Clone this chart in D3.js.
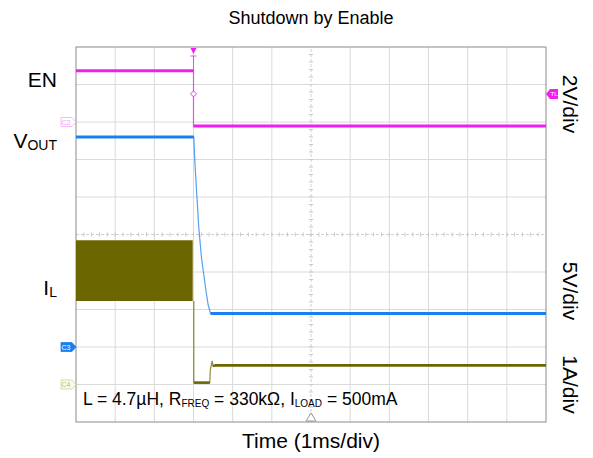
<!DOCTYPE html>
<html>
<head>
<meta charset="utf-8">
<script src="https://cdn.jsdelivr.net/npm/d3@7"></script>
<style>
  body { margin: 0; background: #fff; }
  text { font-family: "Liberation Sans", Arial, sans-serif; }
</style>
</head>
<body>
<div id="chart"></div>
<script>
// scope capture: shutdown by EN, 1 ms/div, 10 vertical divisions
const timeDivs = d3.range(-3, 10);         // ms gridlines
const levelDivs = d3.range(0, 11);         // vertical divisions

// EN (2 V/div, ground at div 8)
const enTime = [-3, 0, 0, 9];
const enVolts = [2.73, 2.73, -0.21, -0.21];

// VOUT (5 V/div, ground at div 2)
const voutTime = [-3, 0.008, 0.033, 0.084, 0.135, 0.204, 0.263, 0.324, 0.375, 0.434, 9];
const voutVolts = [28.0, 28.0, 24.9, 20.3, 15.9, 11.9, 9.6, 7.3, 5.6, 4.47, 4.47];

// IL (1 A/div, ground at div 1) - switching ripple envelope before shutdown
const ilBandTime = [-3, -0.02];
const ilBandMax = [3.85, 3.85];
const ilBandMin = [2.23, 2.23];
const ilTime = [0.008, 0.008, 0.416, 0.429, 0.477, 0.498, 0.544, 9];
const ilAmps = [2.23, 0.05, 0.05, 0.39, 0.63, 0.49, 0.51, 0.51];

const channels = [
  { name: "EN",   t: enTime,   v: enVolts,   offset: 8, perDiv: 2, color: "#f01ef0" },
  { name: "VOUT", t: voutTime, v: voutVolts, offset: 2, perDiv: 5, color: "#1a80ee" },
  { name: "IL",   t: ilTime,   v: ilAmps,    offset: 1, perDiv: 1, color: "#6b6600" }
];

const W = 593, H = 458;
const margin = { top: 47, right: 47, bottom: 36, left: 76 };

const svg = d3.select("#chart").append("svg")
  .attr("width", W).attr("height", H);

const x = d3.scaleLinear().domain([-3, 9]).range([margin.left, W - margin.right]);
const y = d3.scaleLinear().domain([0, 10]).range([H - margin.bottom, margin.top]);

// grid
const grid = svg.append("g");
grid.selectAll(".vg").data(timeDivs.filter(d => d > -3 && d < 9 && d !== 3)).enter()
  .append("line")
  .attr("x1", d => x(d)).attr("x2", d => x(d))
  .attr("y1", y(0)).attr("y2", y(10))
  .attr("stroke", "#dadada");
grid.selectAll(".hg").data(levelDivs.filter(d => d > 0 && d < 10 && d !== 5)).enter()
  .append("line")
  .attr("y1", d => y(d)).attr("y2", d => y(d))
  .attr("x1", x(-3)).attr("x2", x(9))
  .attr("stroke", "#dadada");

// centre lines with minor ticks
grid.append("line")
  .attr("x1", x(3)).attr("x2", x(3)).attr("y1", y(0)).attr("y2", y(10))
  .attr("stroke", "#cfcfcf").attr("stroke-dasharray", "3,2");
grid.append("line")
  .attr("y1", y(5)).attr("y2", y(5)).attr("x1", x(-3)).attr("x2", x(9))
  .attr("stroke", "#cfcfcf").attr("stroke-dasharray", "3,2");
grid.selectAll(".vt").data(d3.range(0.2, 10, 0.2)).enter()
  .append("line")
  .attr("x1", x(3) - 2).attr("x2", x(3) + 2)
  .attr("y1", d => y(d)).attr("y2", d => y(d))
  .attr("stroke", "#c8c8c8");
grid.selectAll(".ht").data(d3.range(-2.8, 9, 0.2)).enter()
  .append("line")
  .attr("y1", y(5) - 2).attr("y2", y(5) + 2)
  .attr("x1", d => x(d)).attr("x2", d => x(d))
  .attr("stroke", "#c8c8c8");

// frame
svg.append("rect")
  .attr("x", x(-3)).attr("y", y(10))
  .attr("width", x(9) - x(-3)).attr("height", y(0) - y(10))
  .attr("fill", "none").attr("stroke", "#8a8a8a");

// IL ripple band
const ilCh = channels[2];
const toDiv = (ch, v) => ch.offset + v / ch.perDiv;
const band = ilBandTime.map((t, i) => ({ t, hi: ilBandMax[i], lo: ilBandMin[i] }));
svg.append("path")
  .datum(band)
  .attr("fill", ilCh.color)
  .attr("d", d3.area()
    .x(d => x(d.t))
    .y0(d => y(toDiv(ilCh, d.lo)))
    .y1(d => y(toDiv(ilCh, d.hi))));

// traces: thin edges, heavy flat levels
channels.forEach(ch => {
  const pts = ch.t.map((t, i) => [x(t), y(toDiv(ch, ch.v[i]))]);
  svg.append("path")
    .attr("d", d3.line()(pts))
    .attr("fill", "none")
    .attr("stroke", ch.color)
    .attr("stroke-opacity", 0.75)
    .attr("stroke-width", 1.2);
  const flat = d3.pairs(pts).filter(([a, b]) => Math.abs(a[1] - b[1]) < 1.5 && b[0] - a[0] > 1);
  svg.selectAll(null).data(flat).enter()
    .append("line")
    .attr("x1", d => d[0][0]).attr("y1", d => d[0][1])
    .attr("x2", d => d[1][0]).attr("y2", d => d[1][1])
    .attr("stroke", ch.color)
    .attr("stroke-width", ch.name === "IL" ? 2.6 : 3);
});

// left channel tags
function leftTag(yy, fill, stroke, label, txt) {
  const x0 = x(-3);
  const g = svg.append("g");
  g.append("path")
    .attr("d", `M${x0 - 15},${yy - 4.5}H${x0 - 4}L${x0},${yy}L${x0 - 4},${yy + 4.5}H${x0 - 15}Z`)
    .attr("fill", fill).attr("stroke", stroke).attr("stroke-width", 0.8);
  g.append("text").attr("x", x0 - 10).attr("y", yy + 2.5)
    .attr("text-anchor", "middle").attr("font-size", 7).attr("fill", txt).text(label);
}
leftTag(y(8), "#fff", "#f6a6f6", "C2", "#f0a0f0");
leftTag(y(2), "#1a80ee", "#1a80ee", "C3", "#fff");
leftTag(y(1), "#fbfbee", "#cfcf9c", "C4", "#b8b880");

// right trigger-level tag
{
  const x1 = x(9), yy = y(toDiv(channels[0], 1.5));
  svg.append("path")
    .attr("d", `M${x1},${yy}L${x1 + 4},${yy - 5}H${x1 + 12}V${yy + 5}H${x1 + 4}Z`)
    .attr("fill", "#f01ef0");
  svg.append("text").attr("x", x1 + 8).attr("y", yy + 2.5)
    .attr("text-anchor", "middle").attr("font-size", 6).attr("fill", "#fff").text("TL");
}

// trigger markers at t = 0
{
  const tx = x(0);
  svg.append("path")
    .attr("d", `M${tx - 3},${y(10) + 1}H${tx + 3}L${tx},${y(10) + 7}Z`)
    .attr("fill", "#f01ef0");
  svg.append("path")
    .attr("d", `M${tx - 3},${y(10) + 9}H${tx + 3}M${tx},${y(10) + 9}V${y(toDiv(channels[0], 2.73))}`)
    .attr("stroke", "#f01ef0").attr("stroke-width", 0.8).attr("fill", "none");
  const dy = y(toDiv(channels[0], 1.5));
  svg.append("path")
    .attr("d", `M${tx},${dy - 3}L${tx + 3},${dy}L${tx},${dy + 3}L${tx - 3},${dy}Z`)
    .attr("fill", "#fff").attr("stroke", "#f01ef0").attr("stroke-width", 0.9);
  // horizontal position marker
  const cx = x(3), by = y(0);
  svg.append("path")
    .attr("d", `M${cx},${by - 9}L${cx + 5},${by - 1}H${cx - 5}Z`)
    .attr("fill", "#fff").attr("stroke", "#999").attr("stroke-width", 1);
}

// labels
svg.append("text").attr("x", 311).attr("y", 24)
  .attr("text-anchor", "middle").attr("font-size", 18).text("Shutdown by Enable");
svg.append("text").attr("x", 311).attr("y", 448)
  .attr("text-anchor", "middle").attr("font-size", 21).text("Time (1ms/div)");

svg.append("text").attr("x", 57).attr("y", 87)
  .attr("text-anchor", "end").attr("font-size", 21).text("EN");
const vo = svg.append("text").attr("x", 57).attr("y", 148)
  .attr("text-anchor", "end").attr("font-size", 21);
vo.append("tspan").text("V");
vo.append("tspan").attr("font-size", 14).attr("dy", 2).text("OUT");
const il = svg.append("text").attr("x", 57).attr("y", 295)
  .attr("text-anchor", "end").attr("font-size", 21);
il.append("tspan").text("I");
il.append("tspan").attr("font-size", 14).attr("dy", 2).text("L");

[["2V/div", 104], ["5V/div", 291], ["1A/div", 384.5]].forEach(([t, yy]) => {
  svg.append("text")
    .attr("transform", `translate(570,${yy}) rotate(90)`)
    .attr("text-anchor", "middle").attr("dominant-baseline", "central")
    .attr("font-size", 21).text(t);
});

const note = svg.append("text").attr("x", 83).attr("y", 405).attr("font-size", 17.5);
note.append("tspan").text("L = 4.7µH, R");
note.append("tspan").attr("font-size", 10).attr("dy", 2).text("FREQ");
note.append("tspan").attr("dy", -2).text(" = 330kΩ, I");
note.append("tspan").attr("font-size", 10).attr("dy", 2).text("LOAD");
note.append("tspan").attr("dy", -2).text(" = 500mA");
</script>
</body>
</html>
